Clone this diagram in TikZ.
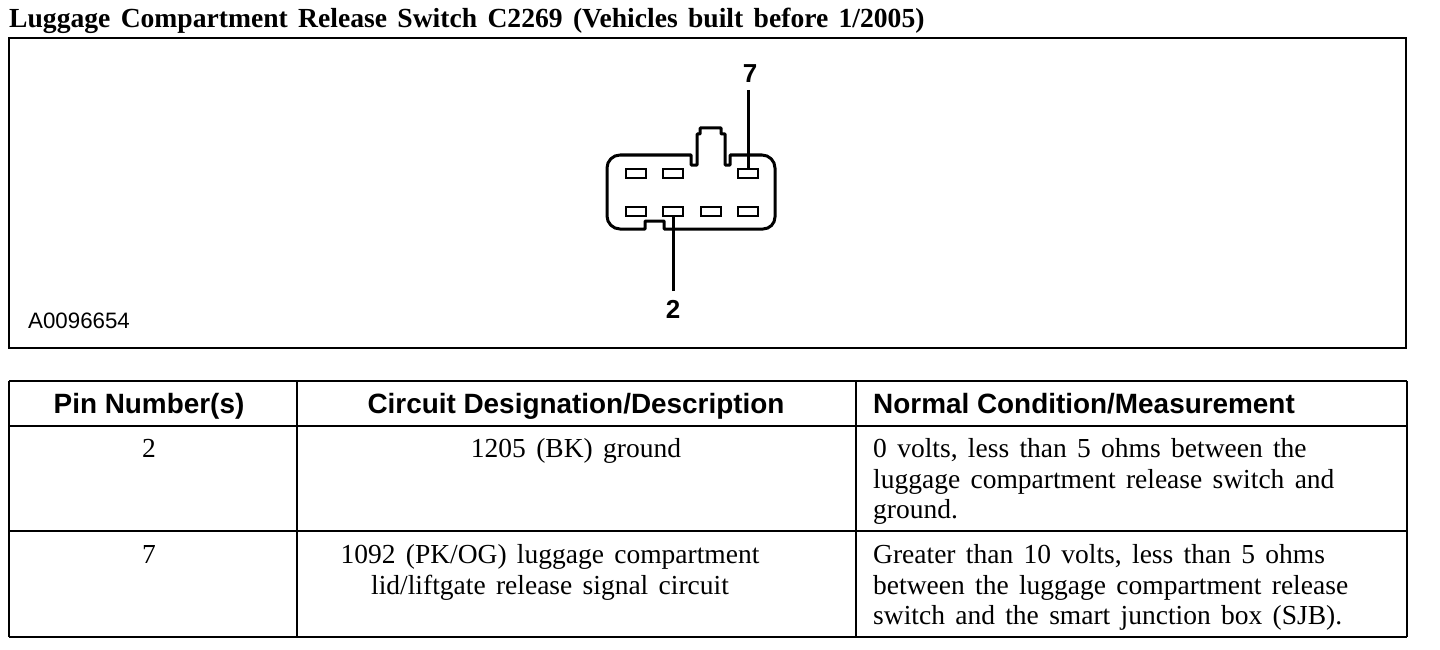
\documentclass[tikz,border=0pt]{standalone}
\usepackage{fontspec}
\setmainfont{Liberation Serif}[WordSpace=1.5]
\setsansfont{Liberation Sans}
\usetikzlibrary{positioning}

\tikzset{
    frameline/.style={black, line width=2pt},
    shellline/.style={black, line width=3pt, line join=round},
    leader/.style={black, line width=3pt},
    pinbox/.style={draw=black, line width=2pt, fill=white, minimum width=20pt, minimum height=9.5pt, inner sep=0pt},
    pinlabel/.style={font=\sffamily\bfseries\fontsize{26}{26}\selectfont, inner sep=0pt},
    headcell/.style={font=\sffamily\bfseries\fontsize{27.9}{28}\selectfont, inner sep=0pt, anchor=base},
    bodycell/.style={font=\fontsize{27.5}{30.5}\selectfont, inner sep=0pt}
}

\begin{document}
\begin{tikzpicture}[x=1pt, y=-1pt]
    \useasboundingbox (0,0) rectangle (1440,650);

    % Title
    \node[font=\bfseries\fontsize{27.6}{28}\selectfont, inner sep=0pt, anchor=base west] (title) at (9,27.5) {Luggage Compartment Release Switch C2269 (Vehicles built before 1/2005)};

    % Picture frame
    \draw[frameline] (9,38) rectangle (1406,348);
    \node[font=\sffamily\fontsize{22.3}{23}\selectfont, inner sep=0pt, anchor=base west] (figid) at (28,328) {A0096654};

    % Connector shell
    \draw[shellline] (730,155) -- (762,155) arc[start angle=-90, end angle=0, radius=13] -- (775,217)
        arc[start angle=0, end angle=90, radius=12] -- (664,229) -- (664,221) -- (645,221) -- (645,229) -- (620,229)
        arc[start angle=90, end angle=180, radius=13] -- (607,168) arc[start angle=180, end angle=270, radius=13]
        -- (691,155) -- (691,165) -- (697,165) -- (697,134) -- (700,134) -- (700,128) -- (721,128) -- (721,134) -- (725,134)
        -- (725,165) -- (730,165) -- cycle;

    % Pins
    \node[pinbox] (pin1) at (636,173.5) {};
    \node[pinbox] (pin3) at (673,173.5) {};
    \node[pinbox] (pin7) at (748,173.5) {};
    \node[pinbox] (pin4) at (636,211.5) {};
    \node[pinbox] (pin2) at (673,211.5) {};
    \node[pinbox] (pin5) at (711,211.5) {};
    \node[pinbox] (pin8) at (748,211.5) {};

    % Pin callouts
    \node[pinlabel] (label7) at (750,74) {7};
    \node[pinlabel] (label2) at (673,309) {2};
    \coordinate (lead7) at (748,90);
    \coordinate (lead2) at (673,291);
    \draw[leader] (lead7) -- (pin7.north);
    \draw[leader] (lead2) -- (pin2.south);

    % Table rules
    \draw[frameline] (9,381) -- (1407,381);
    \draw[frameline] (9,426) -- (1407,426);
    \draw[frameline] (9,531) -- (1407,531);
    \draw[frameline] (9,637) -- (1407,637);
    \draw[frameline] (9,381) -- (9,637);
    \draw[frameline] (297,381) -- (297,637);
    \draw[frameline] (856,381) -- (856,637);
    \draw[frameline] (1407,381) -- (1407,637);

    % Table header
    \node[headcell] (headpin) at (149,413) {Pin Number(s)};
    \node[headcell] (headcircuit) at (576,413) {Circuit Designation/Description};
    \node[headcell, anchor=base west] (headnormal) at (873,413) {Normal Condition/Measurement};

    % Table body
    \node[bodycell, anchor=base] (pintwo) at (149,457) {2};
    \node[bodycell, anchor=base] (circuittwo) at (576,457.5) {1205 (BK) ground};
    \node[bodycell, anchor=north west, align=left] (normaltwo) at (873,438.7) {0 volts, less than 5 ohms between the\\luggage compartment release switch and\\ground.};
    \node[bodycell, anchor=base] (pinseven) at (149,563) {7};
    \node[bodycell, anchor=north, align=center] (circuitseven) at (550,544.5) {1092 (PK/OG) luggage compartment\\lid/liftgate release signal circuit};
    \node[bodycell, anchor=north west, align=left] (normalseven) at (873,544.5) {Greater than 10 volts, less than 5 ohms\\between the luggage compartment release\\switch and the smart junction box (SJB).};
\end{tikzpicture}
\end{document}
